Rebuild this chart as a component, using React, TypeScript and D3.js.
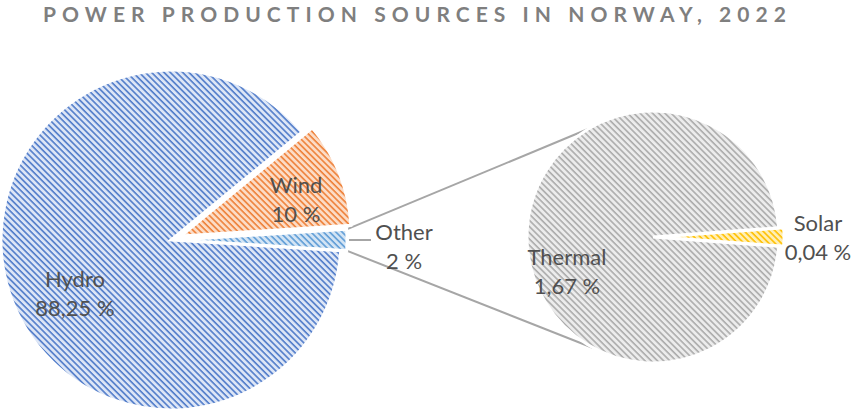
import React from "react";
import * as d3 from "d3";

// ---- data ----
const mainCategories = ["Other", "Hydro", "Wind"];
const mainValues = [2, 88.25, 10];
const mainLabels = ["2 %", "88,25 %", "10 %"];

const subCategories = ["Solar", "Thermal"];
const subValues = [0.04, 1.67];
const subLabels = ["0,04 %", "1,67 %"];

const title = "POWER PRODUCTION SOURCES IN NORWAY, 2022";

// ---- styles ----
const W = 855;
const H = 412;
const FONT = "Lato, 'Liberation Sans', sans-serif";
const TEXT = "#505050";

const patterns: Record<string, { bg: string; fg: string }> = {
  Hydro: { bg: "#dde6f6", fg: "#4f7bc9" },
  Wind: { bg: "#fcdcc6", fg: "#ee8038" },
  Other: { bg: "#d3e4f4", fg: "#5e9cd6" },
  Thermal: { bg: "#ececec", fg: "#ababab" },
  Solar: { bg: "#ffeeb3", fg: "#ffc000" },
};

const explode: Record<string, number> = { Hydro: 0, Wind: 11, Other: 6, Thermal: 0, Solar: 5 };

const mainCx = 171;
const mainCy = 240;
const mainR = 170;
const subCx = 653;
const subCy = 237;
const subR = 126;

// label placement
const labelPos: Record<string, [number, number]> = {
  Hydro: [75, 287],
  Wind: [296, 193],
  Other: [404, 240],
  Thermal: [567, 265],
  Solar: [818, 231],
};

function layoutPie(values: number[]) {
  const total = d3.sum(values);
  const first = (values[0] / total) * 2 * Math.PI;
  const start = Math.PI / 2 - first / 2;
  return d3
    .pie<number>()
    .sort(null)
    .startAngle(start)
    .endAngle(start + 2 * Math.PI)(values);
}

export default function App() {
  const mainArcs = layoutPie(mainValues);
  const subArcs = layoutPie(subValues);
  const arcMain = d3.arc<d3.PieArcDatum<number>>().innerRadius(0).outerRadius(mainR);
  const arcSub = d3.arc<d3.PieArcDatum<number>>().innerRadius(0).outerRadius(subR);

  const off = (a: d3.PieArcDatum<number>, name: string) => {
    const m = (a.startAngle + a.endAngle) / 2;
    const e = explode[name] || 0;
    return [Math.sin(m) * e, -Math.cos(m) * e];
  };

  const other = mainArcs[0];
  const oOff = off(other, "Other");
  const corner = (ang: number): [number, number] => [
    mainCx + oOff[0] + Math.sin(ang) * mainR,
    mainCy + oOff[1] - Math.cos(ang) * mainR,
  ];
  const topStart = corner(other.startAngle);
  const botStart = corner(other.endAngle);
  const subPt = (deg: number): [number, number] => [
    subCx + subR * Math.cos((deg * Math.PI) / 180),
    subCy - subR * Math.sin((deg * Math.PI) / 180),
  ];
  const topEnd = subPt(121);
  const botEnd = subPt(-118);
  const otherMid = corner((other.startAngle + other.endAngle) / 2);

  return (
    <svg
      width={W}
      height={H}
      style={{ position: "absolute", left: 0, top: 0, background: "#fff" }}
      fontFamily={FONT}
    >
      <defs>
        {Object.entries(patterns).map(([k, p]) => (
          <pattern
            key={k}
            id={`pat-${k}`}
            width={4.4}
            height={4.4}
            patternUnits="userSpaceOnUse"
            patternTransform="rotate(45)"
          >
            <rect width={4.4} height={4.4} fill={p.bg} />
            <rect y={0} width={4.4} height={1.6} fill={p.fg} />
          </pattern>
        ))}
      </defs>

      <text
        x={43}
        y={22}
        textLength={743}
        lengthAdjust="spacing"
        fontSize={21}
        fontWeight="bold"
        fill="#7f7f7f"
      >
        {title}
      </text>

      <g stroke="#a6a6a6" strokeWidth={2} fill="none">
        <line x1={topStart[0]} y1={topStart[1]} x2={topEnd[0]} y2={topEnd[1]} />
        <line x1={botStart[0]} y1={botStart[1]} x2={botEnd[0]} y2={botEnd[1]} />
        <line x1={otherMid[0] + 2} y1={otherMid[1]} x2={otherMid[0] + 24} y2={otherMid[1]} />
      </g>

      <g transform={`translate(${mainCx},${mainCy})`}>
        {mainArcs.map((a, i) => {
          const name = mainCategories[i];
          const [dx, dy] = off(a, name);
          return (
            <path
              key={name}
              d={arcMain(a) || ""}
              transform={`translate(${dx},${dy})`}
              fill={`url(#pat-${name})`}
              stroke="#fff"
              strokeWidth={3}
            />
          );
        })}
      </g>

      <g transform={`translate(${subCx},${subCy})`}>
        {subArcs.map((a, i) => {
          const name = subCategories[i];
          const [dx, dy] = off(a, name);
          return (
            <path
              key={name}
              d={arcSub(a) || ""}
              transform={`translate(${dx},${dy})`}
              fill={`url(#pat-${name})`}
              stroke="#fff"
              strokeWidth={3}
            />
          );
        })}
      </g>

      <g fontSize={22} fill={TEXT} textAnchor="middle">
        {mainCategories.map((c, i) => (
          <text key={c}>
            <tspan x={labelPos[c][0]} y={labelPos[c][1]}>{c}</tspan>
            <tspan x={labelPos[c][0]} y={labelPos[c][1] + 29}>{mainLabels[i]}</tspan>
          </text>
        ))}
        {subCategories.map((c, i) => (
          <text key={c}>
            <tspan x={labelPos[c][0]} y={labelPos[c][1]}>{c}</tspan>
            <tspan x={labelPos[c][0]} y={labelPos[c][1] + 29}>{subLabels[i]}</tspan>
          </text>
        ))}
      </g>
    </svg>
  );
}
